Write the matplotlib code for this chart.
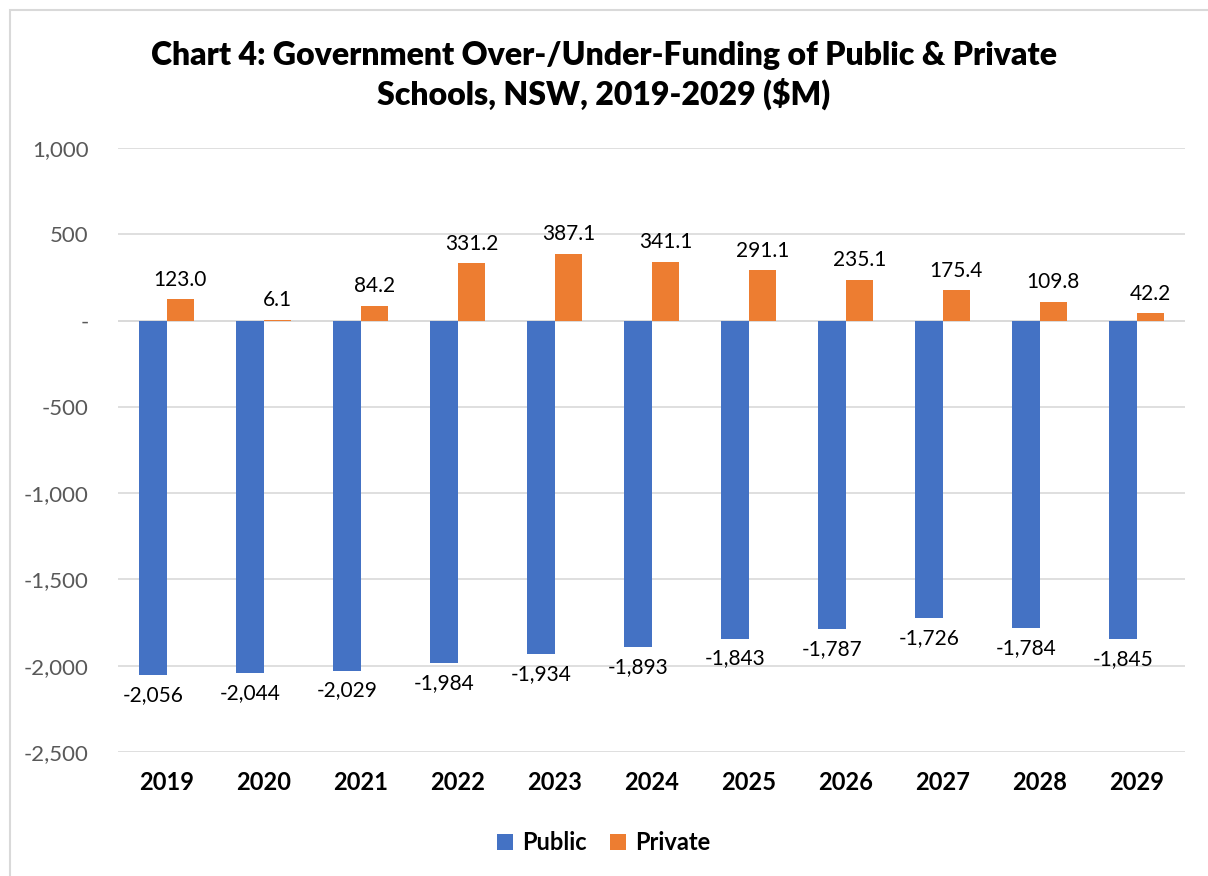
import numpy as np
import matplotlib
matplotlib.use('Agg')
from matplotlib import pyplot as plt
from matplotlib.patches import Rectangle
from matplotlib.ticker import FuncFormatter

years = ['2019', '2020', '2021', '2022', '2023', '2024', '2025', '2026', '2027', '2028', '2029']
public = [-2056, -2044, -2029, -1984, -1934, -1893, -1843, -1787, -1726, -1784, -1845]
private = [123.0, 6.1, 84.2, 331.2, 387.1, 341.1, 291.1, 235.1, 175.4, 109.8, 42.2]

plt.rcParams['font.family'] = ['Lato', 'DejaVu Sans']

blue = '#4472C4'
orange = '#ED7D31'

fig = plt.figure(figsize=(12.08, 8.76), dpi=100)
ax = fig.add_axes([0.0977, 0.1416, 0.8833, 0.6894])

# light chart border
fig.patches.append(Rectangle((10 / 1208, -0.01), 1.1, 1 - 10 / 876 + 0.01,
                             transform=fig.transFigure, fill=False,
                             edgecolor='#D9D9D9', lw=1.5))

x = np.arange(len(years))
w = 0.285
b1 = ax.bar(x - w / 2, public, w, color=blue, label='Public', zorder=3)
b2 = ax.bar(x + w / 2, private, w, color=orange, label='Private', zorder=3)

for xi, v in zip(x, public):
    ax.annotate(f'{v:,.0f}', (xi - w / 2, v), xytext=(0, -7), textcoords='offset points',
                ha='center', va='top', fontsize=15, color='black')
for xi, v in zip(x, private):
    ax.annotate(f'{v:,.1f}', (xi + w / 2, v), xytext=(0, 7), textcoords='offset points',
                ha='center', va='bottom', fontsize=15, color='black')

ax.set_xlim(-0.5, len(years) - 0.5)
ax.set_ylim(-2500, 1000)
ax.set_yticks(np.arange(-2500, 1001, 500))
ax.yaxis.set_major_formatter(FuncFormatter(lambda v, p: '-' if v == 0 else f'{v:,.0f}'))
ax.set_xticks(x)
ax.set_xticklabels(years, fontsize=17, fontweight='bold')
ax.tick_params(axis='y', labelsize=16, labelcolor='#595959', length=0, pad=21)
ax.tick_params(axis='x', length=0, pad=14)
ax.grid(axis='y', color='#D9D9D9', lw=1.2, zorder=0)
ax.axhline(0, color='#D9D9D9', lw=1.2, zorder=1)
for s in ax.spines.values():
    s.set_visible(False)

fig.text(0.5, 0.914, 'Chart 4: Government Over-/Under-Funding of Public & Private\nSchools, NSW, 2019-2029 ($M)',
         ha='center', va='center', fontsize=23, fontweight='heavy', linespacing=1.3)

fig.legend(handles=[b1, b2], loc='center', bbox_to_anchor=(0.5, 0.038), ncol=2,
           frameon=False, prop={'size': 17, 'weight': 'bold'},
           handlelength=0.65, handleheight=0.65, handletextpad=0.4, columnspacing=1.0)

fig.savefig('out.png', dpi=100)
